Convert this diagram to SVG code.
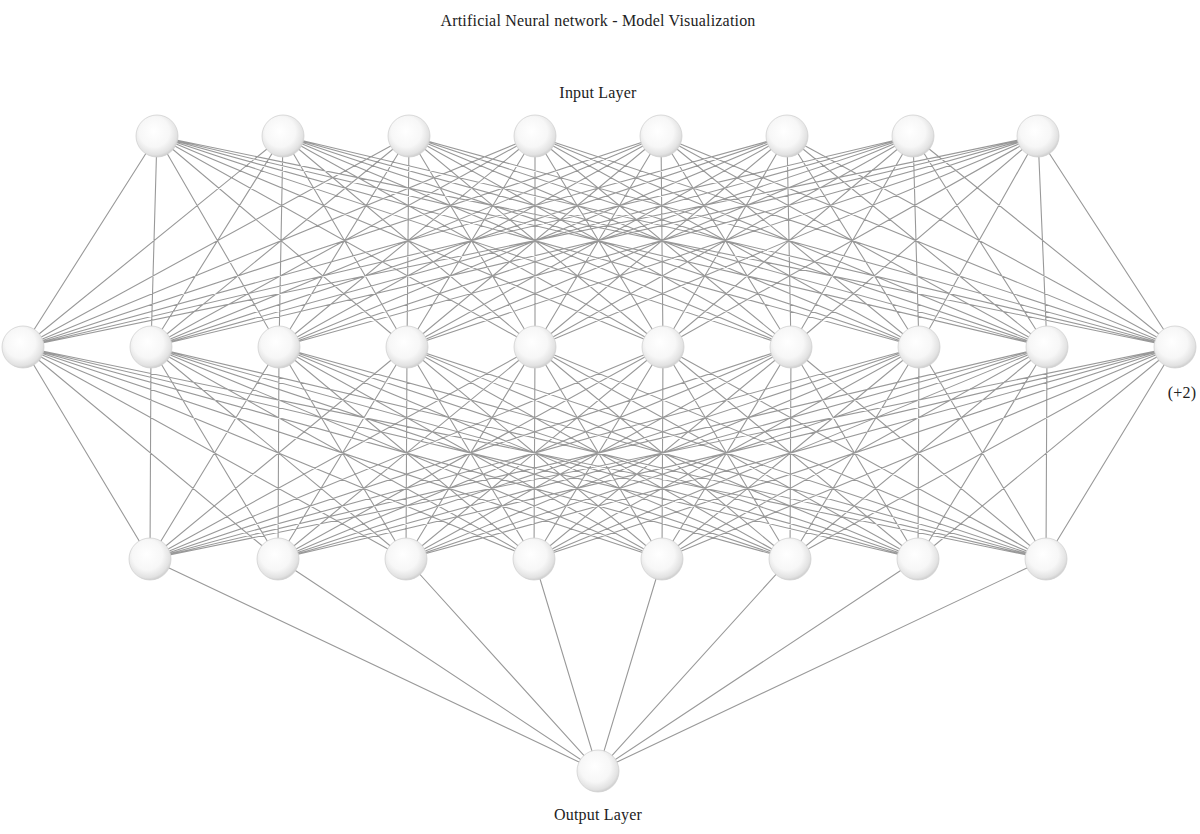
<svg xmlns="http://www.w3.org/2000/svg" width="1200" height="834" viewBox="0 0 1200 834">
<defs>
<radialGradient id="sph" cx="0.45" cy="0.42" r="0.6" fx="0.42" fy="0.38">
<stop offset="0" stop-color="#ffffff"/>
<stop offset="0.6" stop-color="#f7f7f7"/>
<stop offset="0.88" stop-color="#e2e2e2"/>
<stop offset="1" stop-color="#c9c9c9"/>
</radialGradient>
<style>
.e{stroke:#999999;stroke-width:1.1;fill:none}
.n{fill:url(#sph);stroke:#d2d2d2;stroke-width:0.8}
.t{font-family:"Liberation Serif",serif;fill:#222;font-size:16px;text-anchor:middle;letter-spacing:0.2px}
</style>
</defs>
<rect width="1200" height="834" fill="#ffffff"/>
<text class="t" x="598" y="26">Artificial Neural network - Model Visualization</text>
<text class="t" x="598" y="98">Input Layer</text>
<text class="t" x="598" y="820">Output Layer</text>
<text class="t" x="1182" y="398">(+2)</text>
<g id="connectors">
<path class="e" d="M157 136L23 347M157 136L151 347M157 136L279 347M157 136L407 347M157 136L535 347M157 136L663 347M157 136L791 347M157 136L919 347M157 136L1047 347M157 136L1175 347
M283 136L23 347M283 136L151 347M283 136L279 347M283 136L407 347M283 136L535 347M283 136L663 347M283 136L791 347M283 136L919 347M283 136L1047 347M283 136L1175 347
M409 136L23 347M409 136L151 347M409 136L279 347M409 136L407 347M409 136L535 347M409 136L663 347M409 136L791 347M409 136L919 347M409 136L1047 347M409 136L1175 347
M535 136L23 347M535 136L151 347M535 136L279 347M535 136L407 347M535 136L535 347M535 136L663 347M535 136L791 347M535 136L919 347M535 136L1047 347M535 136L1175 347
M661 136L23 347M661 136L151 347M661 136L279 347M661 136L407 347M661 136L535 347M661 136L663 347M661 136L791 347M661 136L919 347M661 136L1047 347M661 136L1175 347
M787 136L23 347M787 136L151 347M787 136L279 347M787 136L407 347M787 136L535 347M787 136L663 347M787 136L791 347M787 136L919 347M787 136L1047 347M787 136L1175 347
M913 136L23 347M913 136L151 347M913 136L279 347M913 136L407 347M913 136L535 347M913 136L663 347M913 136L791 347M913 136L919 347M913 136L1047 347M913 136L1175 347
M1038 136L23 347M1038 136L151 347M1038 136L279 347M1038 136L407 347M1038 136L535 347M1038 136L663 347M1038 136L791 347M1038 136L919 347M1038 136L1047 347M1038 136L1175 347"/>
<path class="e" d="M23 347L150 559M23 347L278 559M23 347L406 559M23 347L534 559M23 347L662 559M23 347L790 559M23 347L918 559M23 347L1046 559
M151 347L150 559M151 347L278 559M151 347L406 559M151 347L534 559M151 347L662 559M151 347L790 559M151 347L918 559M151 347L1046 559
M279 347L150 559M279 347L278 559M279 347L406 559M279 347L534 559M279 347L662 559M279 347L790 559M279 347L918 559M279 347L1046 559
M407 347L150 559M407 347L278 559M407 347L406 559M407 347L534 559M407 347L662 559M407 347L790 559M407 347L918 559M407 347L1046 559
M535 347L150 559M535 347L278 559M535 347L406 559M535 347L534 559M535 347L662 559M535 347L790 559M535 347L918 559M535 347L1046 559
M663 347L150 559M663 347L278 559M663 347L406 559M663 347L534 559M663 347L662 559M663 347L790 559M663 347L918 559M663 347L1046 559
M791 347L150 559M791 347L278 559M791 347L406 559M791 347L534 559M791 347L662 559M791 347L790 559M791 347L918 559M791 347L1046 559
M919 347L150 559M919 347L278 559M919 347L406 559M919 347L534 559M919 347L662 559M919 347L790 559M919 347L918 559M919 347L1046 559
M1047 347L150 559M1047 347L278 559M1047 347L406 559M1047 347L534 559M1047 347L662 559M1047 347L790 559M1047 347L918 559M1047 347L1046 559
M1175 347L150 559M1175 347L278 559M1175 347L406 559M1175 347L534 559M1175 347L662 559M1175 347L790 559M1175 347L918 559M1175 347L1046 559"/>
<path class="e" d="M150 559L598 771M278 559L598 771M406 559L598 771M534 559L598 771M662 559L598 771M790 559L598 771M918 559L598 771M1046 559L598 771"/>
</g>
<g id="input-layer">
<circle id="in1" class="n" cx="157" cy="136" r="21"/>
<circle id="in2" class="n" cx="283" cy="136" r="21"/>
<circle id="in3" class="n" cx="409" cy="136" r="21"/>
<circle id="in4" class="n" cx="535" cy="136" r="21"/>
<circle id="in5" class="n" cx="661" cy="136" r="21"/>
<circle id="in6" class="n" cx="787" cy="136" r="21"/>
<circle id="in7" class="n" cx="913" cy="136" r="21"/>
<circle id="in8" class="n" cx="1038" cy="136" r="21"/>
</g>
<g id="hidden-layer-1">
<circle id="h1_1" class="n" cx="23" cy="347" r="21"/>
<circle id="h1_2" class="n" cx="151" cy="347" r="21"/>
<circle id="h1_3" class="n" cx="279" cy="347" r="21"/>
<circle id="h1_4" class="n" cx="407" cy="347" r="21"/>
<circle id="h1_5" class="n" cx="535" cy="347" r="21"/>
<circle id="h1_6" class="n" cx="663" cy="347" r="21"/>
<circle id="h1_7" class="n" cx="791" cy="347" r="21"/>
<circle id="h1_8" class="n" cx="919" cy="347" r="21"/>
<circle id="h1_9" class="n" cx="1047" cy="347" r="21"/>
<circle id="h1_10" class="n" cx="1175" cy="347" r="21"/>
</g>
<g id="hidden-layer-2">
<circle id="h2_1" class="n" cx="150" cy="559" r="21"/>
<circle id="h2_2" class="n" cx="278" cy="559" r="21"/>
<circle id="h2_3" class="n" cx="406" cy="559" r="21"/>
<circle id="h2_4" class="n" cx="534" cy="559" r="21"/>
<circle id="h2_5" class="n" cx="662" cy="559" r="21"/>
<circle id="h2_6" class="n" cx="790" cy="559" r="21"/>
<circle id="h2_7" class="n" cx="918" cy="559" r="21"/>
<circle id="h2_8" class="n" cx="1046" cy="559" r="21"/>
</g>
<g id="output-layer">
<circle id="out1" class="n" cx="598" cy="771" r="21"/>
</g>
</svg>
